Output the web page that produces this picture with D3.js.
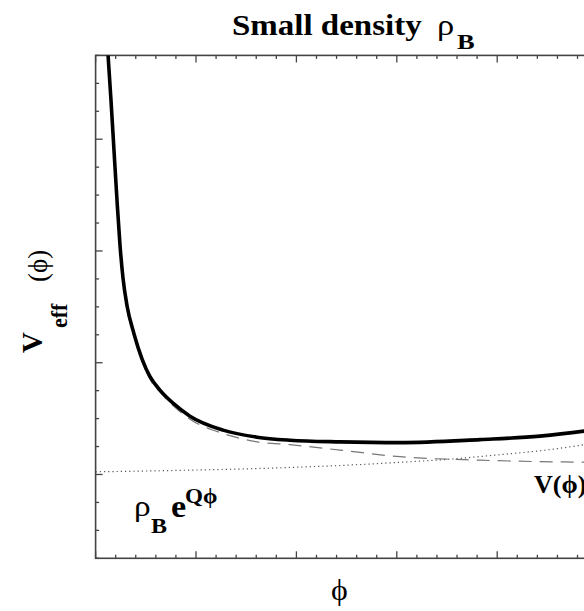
<!DOCTYPE html>
<meta charset="utf-8">
<title>Small density</title>
<script src="https://d3js.org/d3.v7.min.js"></script>
<style>
  body { margin: 0; background: #fff; }
</style>
<body>
<svg width="584" height="611" font-family="'Liberation Serif', 'DejaVu Serif', serif"></svg>
<script>
// values
var phiEff  = [0.10, 0.124, 0.153, 0.183, 0.213, 0.243, 0.273, 0.313, 0.382, 0.462, 0.542, 0.641, 0.771, 0.94, 1.269, 1.608, 1.936, 2.434, 3.032, 3.829, 4.426, 4.865, 5.0];
var vEff    = [4.10, 3.754, 3.351, 2.903, 2.456, 2.053, 1.757, 1.51, 1.26, 1.035, 0.875, 0.755, 0.638, 0.522, 0.397, 0.334, 0.307, 0.292, 0.285, 0.312, 0.343, 0.388, 0.405];
var phiV    = [0.10, 0.124, 0.153, 0.183, 0.213, 0.243, 0.273, 0.313, 0.382, 0.462, 0.542, 0.641, 0.771, 0.94, 1.269, 1.608, 1.936, 2.434, 3.032, 3.829, 4.426, 4.865, 5.0];
var vPhi    = [4.08, 3.73, 3.33, 2.88, 2.43, 2.03, 1.735, 1.488, 1.238, 1.012, 0.852, 0.737, 0.616, 0.495, 0.367, 0.292, 0.267, 0.218, 0.159, 0.128, 0.115, 0.11, 0.108];
var phiDot  = [0, 0.5, 1.0, 1.5, 2.0, 2.5, 3.0, 3.5, 4.0, 4.5, 5.0];
var rhoTerm = [0.024, 0.031, 0.040, 0.050, 0.065, 0.083, 0.107, 0.135, 0.175, 0.22, 0.285];

var svg = d3.select("svg");

var x = d3.scaleLinear().domain([0, 5]).range([95.6, 597.6]);
var y = d3.scaleLinear().domain([-0.75, 3.75]).range([558.3, 55.4]);

svg.append("clipPath").attr("id", "clip")
  .append("rect")
  .attr("x", x(0)).attr("y", y(3.75))
  .attr("width", x(5) - x(0)).attr("height", y(-0.75) - y(3.75));

// frame
svg.append("rect")
  .attr("x", x(0)).attr("y", y(3.75))
  .attr("width", x(5) - x(0)).attr("height", y(-0.75) - y(3.75))
  .attr("fill", "none").attr("stroke", "#444").attr("stroke-width", 1.6);

// ticks, all pointing inward
var xTicks = d3.range(0, 5.001, 0.2);
var yTicks = d3.range(-0.75, 3.751, 0.25);
function isMajor(v) { return Math.abs(v - Math.round(v)) < 1e-6; }

var ticks = svg.append("g").attr("stroke", "#444").attr("stroke-width", 1.3);
xTicks.forEach(function (v) {
  var len = isMajor(v) ? 7 : 3.5;
  ticks.append("line").attr("x1", x(v)).attr("x2", x(v))
    .attr("y1", y(-0.75)).attr("y2", y(-0.75) - len);
  ticks.append("line").attr("x1", x(v)).attr("x2", x(v))
    .attr("y1", y(3.75)).attr("y2", y(3.75) + len);
});
yTicks.forEach(function (v) {
  var len = isMajor(v) ? 7 : 3.5;
  ticks.append("line").attr("y1", y(v)).attr("y2", y(v))
    .attr("x1", x(0)).attr("x2", x(0) + len);
});

var line = d3.line()
  .x(function (d) { return x(d[0]); })
  .y(function (d) { return y(d[1]); })
  .curve(d3.curveMonotoneX);

var plot = svg.append("g").attr("clip-path", "url(#clip)");

// rho_B e^{Q phi}
plot.append("path")
  .attr("d", line(d3.zip(phiDot, rhoTerm)))
  .attr("fill", "none").attr("stroke", "#555").attr("stroke-width", 1.2)
  .attr("stroke-dasharray", "1.2,3");

// V(phi)
plot.append("path")
  .attr("d", line(d3.zip(phiV, vPhi)))
  .attr("fill", "none").attr("stroke", "#777").attr("stroke-width", 1.2)
  .attr("stroke-dasharray", "13,8");

// V_eff(phi)
plot.append("path")
  .attr("d", line(d3.zip(phiEff, vEff)))
  .attr("fill", "none").attr("stroke", "#000").attr("stroke-width", 3.6);

// text helper: the reference letters are a bit wider than tall
function label(px, py, str, size, bold, sx) {
  return svg.append("text")
    .attr("transform", "translate(" + px + "," + py + ") scale(" + sx + ",1)")
    .attr("font-size", size)
    .attr("font-weight", bold ? "bold" : "normal")
    .text(str);
}
function vlabel(px, py, str, size, bold, sy) {
  return svg.append("text")
    .attr("transform", "translate(" + px + "," + py + ") rotate(-90) scale(1," + sy + ")")
    .attr("font-size", size)
    .attr("font-weight", bold ? "bold" : "normal")
    .text(str);
}

// title
label(232, 35, "Small density", 30, true, 1.1);
label(437, 35, "ρ", 30, false, 1.15);
label(457, 49, "B", 22, true, 1.2);

// y label
vlabel(42, 353, "V", 29, true, 1.05);
vlabel(67, 328, "eff", 22, true, 1.05);
vlabel(47, 282, "(ϕ)", 27, false, 1.05);

// x label
label(331, 600, "ϕ", 29, false, 1.1);

// curve labels
label(134, 516, "ρ", 29, false, 1.15);
label(151, 533, "B", 20, true, 1.2);
label(171, 517, "e", 31, true, 1.1);
label(185, 503, "Qϕ", 21, true, 1.1);

label(534, 493, "V(ϕ)", 26, true, 1.0);
</script>
</body>
